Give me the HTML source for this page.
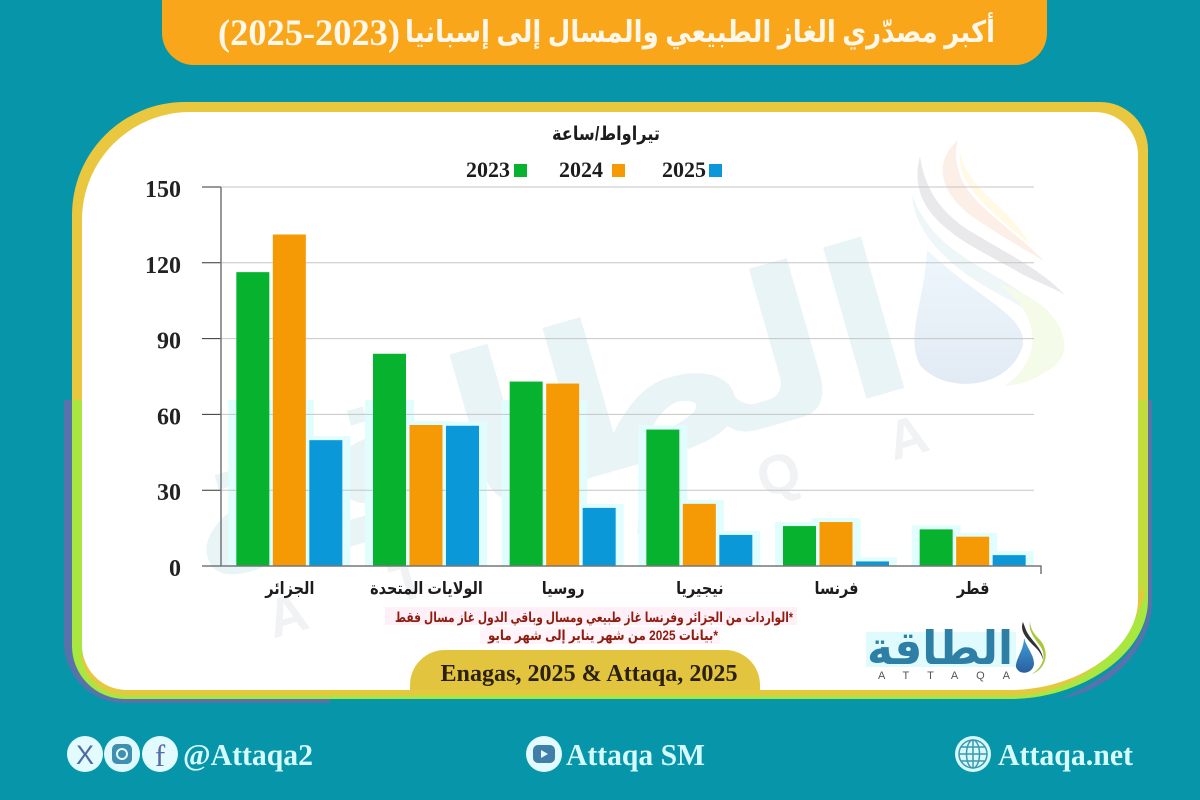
<!DOCTYPE html>
<html lang="ar">
<head>
<meta charset="utf-8">
<title>أكبر مصدّري الغاز الطبيعي والمسال إلى إسبانيا</title>
<style>
html,body{margin:0;padding:0;background:#0795a9}
svg{display:block}
.ar{font-family:"Liberation Sans","DejaVu Sans",sans-serif;font-weight:700}
.en{font-family:"Liberation Serif",serif;font-weight:700}
</style>
</head>
<body>
<svg id="chart" width="1200" height="800" viewBox="0 0 1200 800" xmlns="http://www.w3.org/2000/svg">
<defs>
<clipPath id="clip-top"><rect x="0" y="0" width="1200" height="400"/></clipPath>
<clipPath id="clip-bottom"><rect x="0" y="400" width="1200" height="400"/></clipPath>
<clipPath id="clip-inner"><path d="M190 112H1095A43 43 0 0 1 1138 155V600C1138 650 1075 690 1010 690H125A45 45 0 0 1 82 645V220A108 108 0 0 1 190 112Z"/></clipPath>
<linearGradient id="drop-fill" x1="0" y1="0" x2="0" y2="1"><stop offset="0" stop-color="#eef7fc"/><stop offset="1" stop-color="#e2eaf4"/></linearGradient>
<linearGradient id="logo-drop-fill" x1="0" y1="0" x2="0" y2="1"><stop offset="0" stop-color="#3fa0d8"/><stop offset="1" stop-color="#2a5fa0"/></linearGradient>
</defs>
<rect width="1200" height="800" fill="#0795a9"/>

<path d="M162 0H1047V33A32 32 0 0 1 1015 65H194A32 32 0 0 1 162 33Z" fill="#faa61a"/>
<text x="700" y="42" text-anchor="middle" direction="rtl" textLength="590" lengthAdjust="spacingAndGlyphs" font-size="30" font-weight="700" fill="#fff8ea" style="font-family:'Liberation Serif','DejaVu Sans',serif">أكبر مصدّري الغاز الطبيعي والمسال إلى إسبانيا</text>
<text class="en" x="218" y="45" font-size="36.5" textLength="182" lengthAdjust="spacingAndGlyphs" fill="#fff8ea">(2025-2023)</text>

<g>
<path d="M185 102H1100A48 48 0 0 1 1148 150V600C1148 655 1080 699 1010 699H125A53 53 0 0 1 72 646V215A113 113 0 0 1 185 102Z" fill="#e9c73f" clip-path="url(#clip-top)"/>
<path d="M64 400H72V646A53 53 0 0 0 125 699H330V703H125A61 61 0 0 1 64 646Z" fill="#5a72ab"/>
<path d="M1148 400H1152V600C1152 650 1110 690 1060 699C1105 680 1148 650 1148 600Z" fill="#5a72ab"/>
<path d="M185 102H1100A48 48 0 0 1 1148 150V600C1148 655 1080 699 1010 699H125A53 53 0 0 1 72 646V215A113 113 0 0 1 185 102Z" fill="#a9e63f" clip-path="url(#clip-bottom)"/>
<rect x="1138" y="400" width="10" height="190" fill="#c2dc3c"/>
<path d="M84 655C88 680 105 692.5 130 692.5H1010C1070 692.5 1125 655 1143 590" fill="none" stroke="#e3c840" stroke-width="6"/>
<path d="M190 112H1095A43 43 0 0 1 1138 155V600C1138 650 1075 690 1010 690H125A45 45 0 0 1 82 645V220A108 108 0 0 1 190 112Z" fill="#ffffff"/>
</g>

<g clip-path="url(#clip-inner)">
<text x="562" y="486" transform="rotate(-16 562 486)" text-anchor="middle" direction="rtl" textLength="750" lengthAdjust="spacingAndGlyphs" font-size="207" font-weight="700" fill="#e9f4f6" style="font-family:'DejaVu Sans',sans-serif">الطاقة</text>
<text x="597" y="545" transform="rotate(-16 597 525)" text-anchor="middle" font-size="55" font-family="Liberation Sans, sans-serif" font-weight="700" textLength="685" fill="#f1f2f3">ATTAQA</text>
<path d="M912 195C915 240 960 275 1010 300C1035 315 1048 330 1052 345C1055 310 1020 290 985 270C950 250 925 230 912 195Z" fill="#eff6f8"/>
<path d="M927 250C925 300 905 335 920 365C945 395 1010 390 1023 345C1026 315 980 300 927 250Z" fill="url(#drop-fill)"/>
<path d="M920 156C905 215 960 240 1015 270C1035 282 1055 288 1065 295C1040 268 1000 250 965 228C940 210 925 190 920 156Z" fill="#e9e9eb"/>
<path d="M958 140C925 170 950 205 985 225C1015 245 1035 255 1045 262C1015 230 970 205 960 175C955 160 955 150 958 140Z" fill="#fbefe8"/>
<path d="M960 150C955 185 990 210 1030 245C1010 205 965 190 960 150Z" fill="#fff9e6"/>
<path d="M1000 285C1060 300 1085 355 1045 372C1030 383 1015 385 1005 386C1040 360 1045 320 1000 285Z" fill="#f5fbe9"/>
</g>

<g id="plot"></g>

<text class="ar" x="606" y="140" text-anchor="middle" direction="rtl" textLength="108" lengthAdjust="spacingAndGlyphs" font-size="19" fill="#1c1c1c">تيراواط/ساعة</text>

<g id="legend"></g>

<rect x="385" y="607" width="412" height="18" fill="#fff0f8"/>
<rect x="480" y="627" width="240" height="17" fill="#fff4fa"/>
<text class="ar" x="594" y="622" text-anchor="middle" direction="rtl" textLength="398" lengthAdjust="spacingAndGlyphs" font-size="14" fill="#8e1d10">*الواردات من الجزائر وفرنسا غاز طبيعي ومسال وباقي الدول غاز مسال فقط</text>
<text class="ar" x="603" y="640" text-anchor="middle" direction="rtl" textLength="230" lengthAdjust="spacingAndGlyphs" font-size="14" fill="#8e1d10">*بيانات 2025 من شهر يناير إلى شهر مايو</text>

<path d="M410 690V685A35 35 0 0 1 445 650H725A35 35 0 0 1 760 685V690Z" fill="#e2c43f"/>
<text class="en" x="589" y="681" text-anchor="middle" font-size="24" textLength="297" lengthAdjust="spacingAndGlyphs" fill="#2a2110">Enagas, 2025 &amp; Attaqa, 2025</text>

<g>
<rect x="866" y="632" width="150" height="35" fill="#e0fbfd"/>
<text x="940" y="664" text-anchor="middle" direction="rtl" textLength="146" lengthAdjust="spacingAndGlyphs" font-size="46" font-weight="700" fill="#2e7fa5" style="font-family:'DejaVu Sans',sans-serif">الطاقة</text>
<text x="944" y="679" text-anchor="middle" font-size="11" font-family="Liberation Sans, sans-serif" textLength="132" fill="#555">ATTAQA</text>
<path d="M1030 622C1028 632 1036 640 1040 646C1046 654 1045 665 1032 674C1048 668 1049 650 1040 640C1034 634 1031 630 1030 622Z" fill="#a8c83c"/>
<path d="M1023 622C1019 632 1028 640 1036 648C1040 652 1042 656 1043 660C1043 648 1030 640 1026 630Z" fill="#333"/>
<path d="M1024 638C1024 650 1015 660 1016 667C1019 676 1033 674 1034 664C1034 655 1028 650 1024 638Z" fill="url(#logo-drop-fill)"/>
</g>

<g>
<ellipse cx="85" cy="754" rx="18" ry="18" fill="#e2fbff"/>
<text x="85" y="764" text-anchor="middle" font-size="27" font-family="Liberation Sans, sans-serif" fill="#4d6ba0">X</text>
<ellipse cx="122" cy="754" rx="18" ry="18" fill="#dffaff"/>
<rect x="112" y="744" width="20" height="20" rx="5" fill="#3f8fae"/>
<circle cx="122" cy="754" r="5" fill="none" stroke="#e2fbff" stroke-width="2"/>
<ellipse cx="160" cy="754" rx="18" ry="18" fill="#e2fbff"/>
<text x="160" y="766" text-anchor="middle" font-size="31" font-family="Liberation Serif, serif" fill="#5a6aa8">f</text>
<text class="en" x="183" y="765" font-size="31" textLength="130" lengthAdjust="spacingAndGlyphs" fill="#d5fbff">@Attaqa2</text>

<ellipse cx="544" cy="754" rx="18" ry="18" fill="#e2fbff"/>
<rect x="533" y="745" width="22" height="18" rx="5" fill="#3f7fa8"/>
<path d="M541 750L548 754L541 758Z" fill="#e2fbff"/>
<text class="en" x="566" y="765" font-size="31" textLength="139" lengthAdjust="spacingAndGlyphs" fill="#d5fbff">Attaqa SM</text>

<circle cx="973" cy="754" r="18" fill="#d5fbff"/>
<g fill="none" stroke="#3f98ae" stroke-width="1.5">
<circle cx="973" cy="754" r="14"/>
<ellipse cx="973" cy="754" rx="6.5" ry="14"/>
<path d="M959 754H987M961 747H985M961 761H985M973 740V768"/>
</g>
<text class="en" x="998" y="765" font-size="31" textLength="135" lengthAdjust="spacingAndGlyphs" fill="#d5fbff">Attaqa.net</text>
</g>
</svg>

<script>
const categories = ['الجزائر', 'الولايات المتحدة', 'روسيا', 'نيجيريا', 'فرنسا', 'قطر'];
const values2023 = [116.3, 84, 73, 54, 15.8, 14.5];
const values2024 = [131.2, 55.8, 72.2, 24.6, 17.4, 11.6];
const values2025 = [49.8, 55.5, 23, 12.3, 1.8, 4.3];
const yTicks = [0, 30, 60, 90, 120, 150];
const seriesNames = ['2023', '2024', '2025'];
const seriesColors = ['#07b22f', '#f59a05', '#0a98d8'];

const NS = 'http://www.w3.org/2000/svg';
const plot = document.getElementById('plot');
const legend = document.getElementById('legend');
const X0 = 221, X1 = 1041, Y0 = 566, Y1 = 187, YMAX = 150;
const BAR_W = 33, BAR_STEP = 36.5, HALO_PAD = 8, HALO_TOP = 400;

function yScale(v) { return Y0 - (v / YMAX) * (Y0 - Y1); }
function bandCenter(i) { return X0 + (X1 - X0) / categories.length * (i + 0.5); }
function make(tag, attrs, parent) {
  const el = document.createElementNS(NS, tag);
  for (const k in attrs) el.setAttribute(k, attrs[k]);
  parent.appendChild(el);
  return el;
}

[values2023, values2024, values2025].forEach(function (vals, s) {
  vals.forEach(function (v, i) {
    const x = bandCenter(i) + (s - 1) * BAR_STEP - BAR_W / 2;
    const top = Math.max(yScale(v) - 4, HALO_TOP);
    const halo = make('rect', { x: x - HALO_PAD, y: top, width: BAR_W + 2 * HALO_PAD, height: Y0 - top, fill: '#e2fdfd' }, plot);
    
    
  });
});

yTicks.forEach(function (t) {
  const y = yScale(t);
  if (t > 0) {
    const grid = make('line', { x1: X0, x2: 1034, y1: y, y2: y, stroke: '#c6c6c6', 'stroke-width': 1 }, plot);
    
    
  }
  const tick = make('line', { x1: 202, x2: X0, y1: y, y2: y, stroke: '#333', 'stroke-width': 1 }, plot);
  
  
  const label = make('text', { x: 181, y: y + 10, 'text-anchor': 'end', 'font-size': 24, 'class': 'en', fill: '#222' }, plot);
  
  
  label.textContent = t;
});

[values2023, values2024, values2025].forEach(function (vals, s) {
  vals.forEach(function (v, i) {
    const x = bandCenter(i) + (s - 1) * BAR_STEP - BAR_W / 2;
    const bar = make('rect', { x: x, y: yScale(v), width: BAR_W, height: Y0 - yScale(v), fill: seriesColors[s] }, plot);
    
    
  });
});

const yAxis = make('line', { x1: X0, x2: X0, y1: Y1, y2: Y0, stroke: '#777', 'stroke-width': 1.5 }, plot);


const xAxis = make('path', { d: 'M207 ' + Y0 + 'H' + X1 + 'V' + (Y0 + 8), fill: 'none', stroke: '#777', 'stroke-width': 1.5 }, plot);



categories.forEach(function (c, i) {
  const label = make('text', { transform: 'translate(' + (bandCenter(i) + 0.5) + ' 594) scale(0.85 1)', 'text-anchor': 'middle', direction: 'rtl', 'font-size': 17, 'class': 'ar', fill: '#1c1c1c' }, plot);
  
  
  label.textContent = c;
});

const legendTextX = [466, 559, 662];
const legendBoxX = [514, 612, 709];
seriesNames.forEach(function (n, i) {
  const txt = make('text', { x: legendTextX[i], y: 177, 'font-size': 22, 'class': 'en', fill: '#1c1c1c' }, legend);
  
  
  txt.textContent = n;
  const box = make('rect', { x: legendBoxX[i], y: 164, width: 13, height: 13, fill: seriesColors[i] }, legend);
  
  
});
</script>
</body>
</html>
